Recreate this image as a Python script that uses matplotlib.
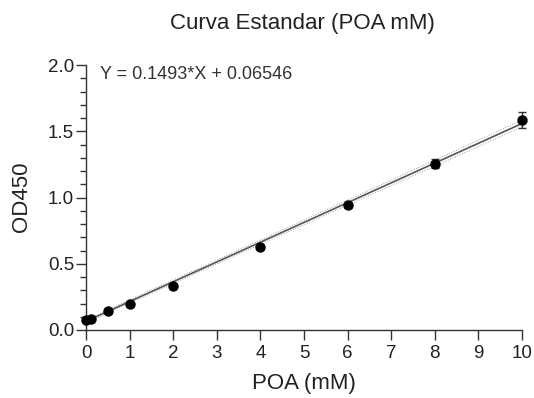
import numpy as np
import matplotlib.pyplot as plt
from matplotlib.ticker import MultipleLocator

plt.rcParams['font.family'] = ['Liberation Sans', 'DejaVu Sans']

# Standard curve measurements
poa_mm = [0.0, 0.125, 0.5, 1, 2, 4, 6, 8, 10]
od450 = [0.078, 0.085, 0.14, 0.20, 0.335, 0.626, 0.94, 1.255, 1.585]
od450_err = [0.01, 0.01, 0.01, 0.01, 0.012, 0.012, 0.02, 0.035, 0.06]

slope = 0.1493
intercept = 0.06546
band = [0.01, 0.025]   # half-width of confidence band at x=0 and x=10

W, H = 534, 398
fig = plt.figure(figsize=(W / 100, H / 100), dpi=100)
ax = fig.add_axes([86 / W, 68 / H, 436 / W, 265 / H])

xf = np.linspace(0, 10, 200)
yf = slope * xf + intercept
hw = np.interp(xf, [0, 10], band)
ax.plot(xf, yf, color='#555555', lw=1.2, zorder=2)
ax.plot(xf, yf + hw, color='#999999', lw=0.7, ls=':', zorder=2)
ax.plot(xf, yf - hw, color='#999999', lw=0.7, ls=':', zorder=2)

ax.errorbar(poa_mm, od450, yerr=od450_err, fmt='o', color='black', ms=6.5,
            ecolor='#333333', elinewidth=1, capsize=3, zorder=3, clip_on=False)

ax.set_xlim(0, 10)
ax.set_ylim(0, 2.0)
ax.xaxis.set_major_locator(MultipleLocator(1))
ax.yaxis.set_major_locator(MultipleLocator(0.5))
ax.yaxis.set_minor_locator(MultipleLocator(0.1))
ax.yaxis.set_major_formatter(plt.FuncFormatter(lambda v, p: f'{v:.1f}'))
ax.tick_params(axis='both', which='major', direction='out', length=7, width=1,
               labelsize=13.5, colors='#333333', labelcolor='#222222')
ax.tick_params(axis='x', which='major', pad=4)
ax.tick_params(axis='y', which='major', pad=1.5)
ax.tick_params(axis='y', which='minor', direction='out', length=4, width=1,
               colors='#333333')
for s in ['top', 'right']:
    ax.spines[s].set_visible(False)
for s in ['left', 'bottom']:
    ax.spines[s].set_linewidth(1)
    ax.spines[s].set_color('#333333')

fig.text(302 / W, 1 - 24 / H, 'Curva Estandar (POA mM)', fontsize=16,
         ha='center', va='center', color='#222222')
fig.text(304 / W, 1 - 384 / H, 'POA (mM)', fontsize=16,
         ha='center', va='center', color='#222222')
fig.text(22 / W, 1 - 197 / H, 'OD450', fontsize=16, rotation=90,
         ha='center', va='center', color='#222222')
ax.text(0.32, 1.93, 'Y = 0.1493*X + 0.06546', fontsize=13, va='center',
        ha='left', color='#333333')

fig.savefig('out.png', dpi=100)
